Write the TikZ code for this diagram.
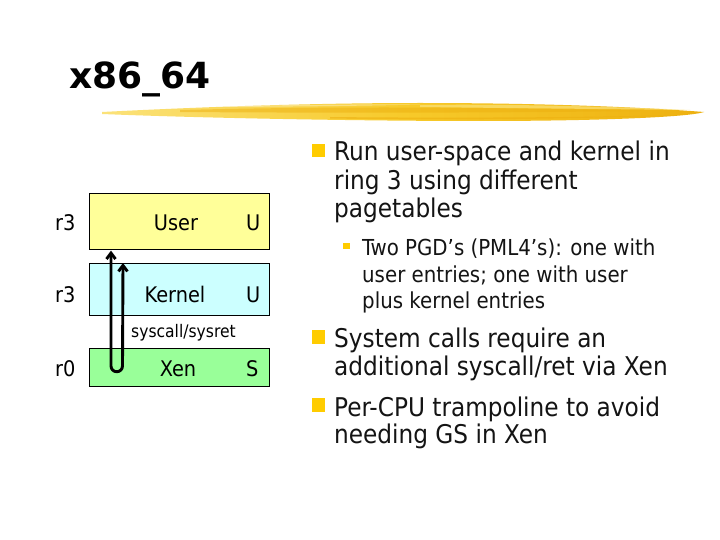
\documentclass[tikz,border=0pt]{standalone}
\usepackage{fontspec}
\setmainfont{DejaVu Sans Condensed}
\newfontfamily\titlefont{DejaVu Sans}[BoldFont={DejaVu Sans Bold}]
\usetikzlibrary{arrows.meta,calc}
\definecolor{useryellow}{HTML}{FFFF99}
\definecolor{kernelcyan}{HTML}{CCFFFF}
\definecolor{xengreen}{HTML}{99FF99}
\definecolor{bulletgold}{HTML}{FFCC00}
\definecolor{brushA}{HTML}{FBE27A}
\definecolor{brushB}{HTML}{F7CA2A}
\definecolor{brushC}{HTML}{EDB010}
\tikzset{
  ringbox/.style={draw=black, line width=0.6pt, minimum width=180pt, inner sep=0pt, anchor=north west},
  lbl/.style={font=\fontsize{21.5}{24}\selectfont, inner sep=0pt, anchor=base west},
  lblc/.style={font=\fontsize{21.5}{24}\selectfont, inner sep=0pt, anchor=base},
  bt/.style={font=\fontsize{25.8}{29}\selectfont, inner sep=0pt, anchor=base west, text=black!92},
  st/.style={font=\fontsize{22}{26}\selectfont, inner sep=0pt, anchor=base west, text=black!92},
  sq/.style={fill=bulletgold, draw=none},
  ucall/.style={line width=2.9pt, {Straight Barb[length=6pt,width=9pt]}-{Straight Barb[length=6pt,width=9pt]}}
}
\begin{document}
\begin{tikzpicture}[x=1pt,y=-1pt]
\useasboundingbox (0,0) rectangle (720,540);
\fill[white] (0,0) rectangle (720,540);
% title
\node[inner sep=0pt, anchor=base west, font=\titlefont\bfseries\fontsize{36}{40}\selectfont] (title) at (69,89) {x86\_64};
% brush stroke
\shade[left color=brushA, right color=brushC, middle color=brushB]
  (102,112) .. controls (180,108) and (300,103) .. (420,103)
  .. controls (540,103) and (640,107) .. (704,112)
  .. controls (690,117) and (600,121) .. (480,121)
  .. controls (360,121) and (200,118) .. (102,114) -- cycle;
\fill[brushC, opacity=0.5] (180,110) .. controls (300,107) and (450,106) .. (640,111) .. controls (500,113) and (320,113) .. (180,112) -- cycle;
\fill[brushA, opacity=0.7] (420,105) .. controls (500,104) and (600,106) .. (690,110) .. controls (600,109) and (500,108) .. (420,107) -- cycle;
\fill[brushC, opacity=0.6] (330,117) .. controls (420,118) and (560,118) .. (680,115) .. controls (560,120) and (420,120) .. (330,118.5) -- cycle;
\fill[white, opacity=0.35] (230,106) .. controls (300,105) and (360,104) .. (420,104.5) .. controls (360,106) and (300,106.5) .. (230,107) -- cycle;
% ring boxes
\node[ringbox, fill=useryellow, minimum height=56pt] (user) at (89,193) {};
\node[ringbox, fill=kernelcyan, minimum height=52pt] (kernel) at (89,263) {};
\node[ringbox, fill=xengreen, minimum height=38pt] (xen) at (89,348) {};
\node[lbl] (r3a) at (55,230) {r3};
\node[lbl] (r3b) at (55,302) {r3};
\node[lbl] (r0) at (55,376) {r0};
\node[lblc] (userlbl) at (176,230) {User};
\node[lblc] (kernellbl) at (175,302) {Kernel};
\node[lblc] (xenlbl) at (178,376) {Xen};
\node[lbl] (uu) at (246,230) {U};
\node[lbl] (uk) at (246,302) {U};
\node[lbl] (sx) at (246,376) {S};
\node[inner sep=0pt, anchor=base west, font=\fontsize{17.3}{20}\selectfont] (sc) at (131,337) {syscall/sysret};
% U-shaped syscall path
\draw[ucall] ($(user.south west)+(22,1)$) -- ($(xen.north west)+(22,18)$)
  arc[start angle=180, end angle=0, radius=5.75] -- ($(kernel.north west)+(34,0)$);
% bullets
\fill[sq] (312,144) rectangle (325,157);
\fill[sq] (312,330) rectangle (325,344);
\fill[sq] (312,398) rectangle (325,412);
\fill[sq] (343,243) rectangle (350,249);
\node[bt] (b1a) at (334,161) {Run user-space and kernel in};
\node[bt] (b1b) at (334,190) {ring 3 using different};
\node[bt] (b1c) at (334,218) {pagetables};
\node[st] (s1a) at (362,255) {Two PGD’s (PML4’s): one with};
\node[st] (s1b) at (362,282) {user entries; one with user};
\node[st] (s1c) at (362,308) {plus kernel entries};
\node[bt] (b2a) at (334,347) {System calls require an};
\node[bt] (b2b) at (334,375) {additional syscall/ret via Xen};
\node[bt] (b3a) at (334,416) {Per-CPU trampoline to avoid};
\node[bt] (b3b) at (334,443) {needing GS in Xen};
\end{tikzpicture}
\end{document}
